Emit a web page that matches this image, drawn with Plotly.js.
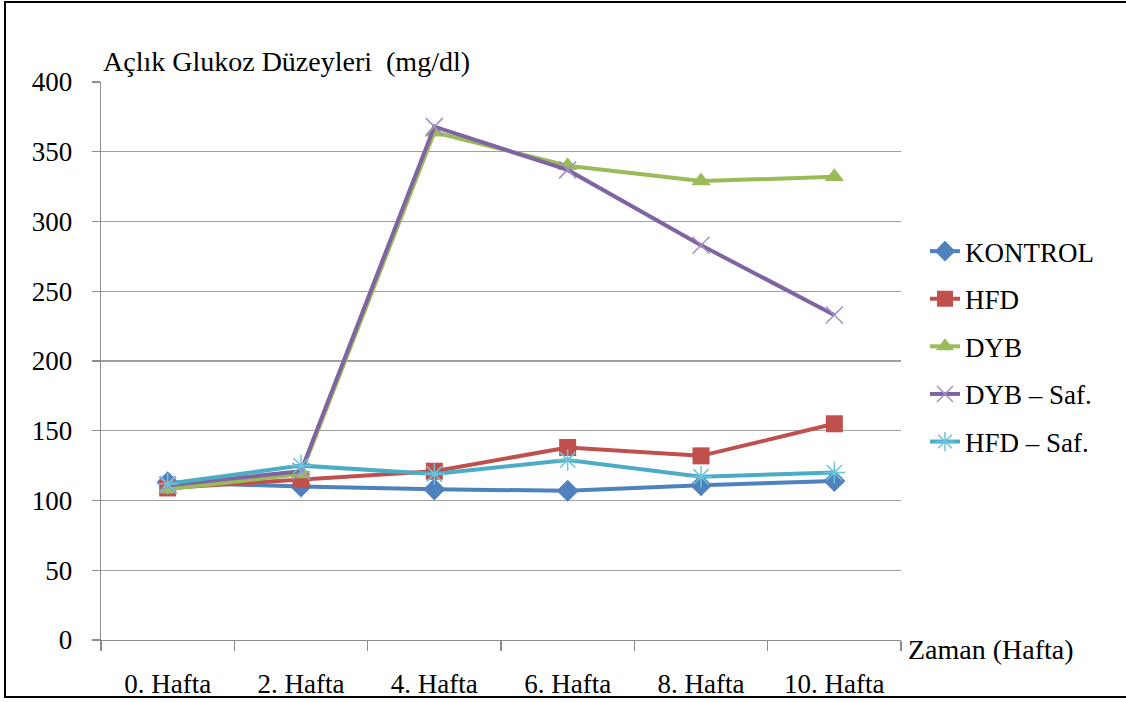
<!DOCTYPE html>
<html>
<head>
<meta charset="utf-8">
<script src="https://cdn.plot.ly/plotly-3.0.1.min.js"></script>
<style>
  html, body { margin: 0; padding: 0; background: #fff; }
  #wrap { position: relative; width: 1126px; height: 702px; overflow: hidden; }
  #chart { width: 1126px; height: 702px; }
  #frame { position: absolute; left: 4px; top: 1px; width: 1140px; height: 697px;
           border: 2px solid #000; pointer-events: none; box-sizing: border-box; }
</style>
</head>
<body>
<div id="wrap">
  <div id="chart"></div>
  <div id="frame"></div>
</div>
<script>
// Weeks of the study
const weeks = ["0. Hafta", "2. Hafta", "4. Hafta", "6. Hafta", "8. Hafta", "10. Hafta"];

// Fasting glucose (mg/dl) per group
const kontrol = [113, 110, 108, 107, 111, 114];
const hfd     = [109, 115, 121, 138, 132, 155];
const dyb     = [108, 119, 364, 340, 329, 332];
const dybSaf  = [111, 121, 368, 337, 283, 233];
const hfdSaf  = [112, 125, 119, 129, 117, 120];

const seriesNames = ["KONTROL", "HFD", "DYB", "DYB \u2013 Saf.", "HFD \u2013 Saf."];
const yTicks = [0, 50, 100, 150, 200, 250, 300, 350, 400];

const serif = "Liberation Serif";
const fs = 27;

function line(name, y, color, marker) {
  return {
    type: "scatter",
    mode: "lines+markers",
    name: name,
    x: weeks,
    y: y,
    legendgroup: name,
    line: { color: color, width: 4 },
    marker: Object.assign({ color: color }, marker)
  };
}

const traces = [
  line(seriesNames[0], kontrol, "#4F81BD", { symbol: "diamond", size: 17 }),
  line(seriesNames[1], hfd, "#C0504D", { symbol: "square", size: 17 }),
  line(seriesNames[2], dyb, "#9BBB59", { symbol: "triangle-up", size: 17 }),
  line(seriesNames[3], dybSaf, "#8064A2",
       { symbol: "x-thin", size: 17, line: { color: "#A28FC4", width: 1.5 } }),
  line(seriesNames[4], hfdSaf, "#4BACC6",
       { symbol: "asterisk", size: 18, line: { color: "#6CC3DA", width: 1.5 } })
];

const layout = {
  width: 1126,
  height: 702,
  margin: { l: 101, r: 225, t: 82, b: 62 },
  paper_bgcolor: "#fff",
  plot_bgcolor: "#fff",
  showlegend: true,
  font: { family: serif, size: fs, color: "#000" },
  xaxis: {
    type: "category",
    range: [-0.5, weeks.length - 0.5],
    tickson: "boundaries",
    ticks: "outside",
    ticklen: 10,
    tickcolor: "#8c8c8c",
    tickwidth: 1.3,
    showgrid: false,
    showline: true,
    linecolor: "#8c8c8c",
    linewidth: 1.3,
    ticklabelstandoff: 19,
    tickfont: { family: serif, size: fs, color: "#000" },
    fixedrange: true
  },
  yaxis: {
    range: [0, 400],
    tickvals: yTicks,
    ticks: "outside",
    ticklen: 8,
    tickcolor: "#8c8c8c",
    tickwidth: 1.3,
    showgrid: true,
    gridcolor: "#a0a0a0",
    gridwidth: 1.3,
    showline: true,
    linecolor: "#8c8c8c",
    linewidth: 1.3,
    zeroline: false,
    ticklabelstandoff: 14,
    tickfont: { family: serif, size: fs, color: "#000" },
    fixedrange: true
  },
  legend: {
    x: 1.03,
    xanchor: "left",
    y: 0.74,
    yanchor: "top",
    traceorder: "grouped",
    tracegroupgap: 9.5,
    font: { family: serif, size: fs, color: "#000" },
    bgcolor: "rgba(0,0,0,0)",
    itemwidth: 30
  },
  annotations: [
    {
      text: "A\u00e7l\u0131k Glukoz D\u00fczeyleri&nbsp;&nbsp;(mg/dl)",
      xref: "paper", yref: "paper",
      x: 0.0, xanchor: "left",
      y: 1.0, yanchor: "bottom", yshift: 3,
      showarrow: false,
      font: { family: serif, size: 28, color: "#000" }
    },
    {
      text: "Zaman (Hafta)",
      xref: "paper", yref: "paper",
      x: 1.0, xanchor: "left", xshift: 5,
      y: 0.0, yanchor: "middle", yshift: -9,
      showarrow: false,
      font: { family: serif, size: 28, color: "#000" }
    }
  ]
};

Plotly.newPlot("chart", traces, layout, { displayModeBar: false, staticPlot: true });
</script>
</body>
</html>
